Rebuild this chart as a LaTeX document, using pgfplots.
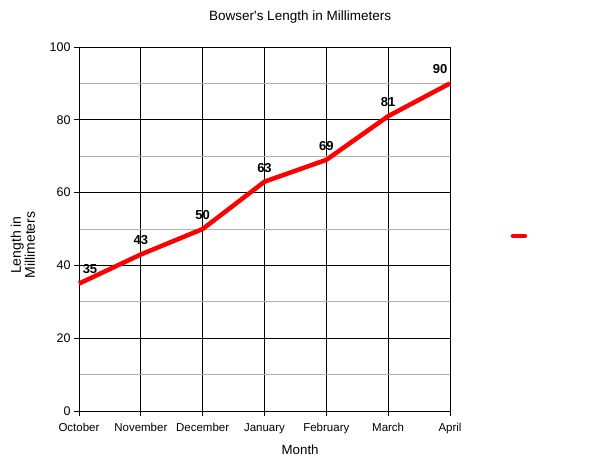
\documentclass[border=0pt]{standalone}
\usepackage{fontspec}
\setmainfont{Liberation Sans}
\usepackage{pgfplots}
\pgfplotsset{compat=1.18}

\begin{document}
\begin{tikzpicture}
\useasboundingbox (-79bp,-52bp) rectangle (521bp,411bp);
\begin{axis}[
    at={(0,0)}, anchor=south west,
    scale only axis,
    width=371bp, height=364bp,
    xmin=0, xmax=6, ymin=0, ymax=100,
    xtick={0,...,6},
    xticklabels={October,November,December,January,February,March,April},
    ytick={0,20,...,100},
    minor ytick={10,30,...,90},
    /pgf/number format/assume math mode=true,
    tick align=outside,
    major tick length=5bp,
    minor tick length=0pt,
    tick style={black, line width=0.8bp},
    xmajorgrids, ymajorgrids, yminorgrids,
    major grid style={black, line width=0.8bp},
    minor grid style={gray!60, line width=0.8bp},
    axis line style={black, line width=0.8bp},
    axis x line*=bottom, axis y line*=left,
    x tick label style={font=\fontsize{11.5bp}{12bp}\selectfont, yshift=-4bp},
    y tick label style={font=\fontsize{12.5bp}{13bp}\selectfont},
    xlabel={Month},
    xlabel style={font=\fontsize{13.3bp}{14bp}\selectfont, at={(axis description cs:0.596,-0.107)}, anchor=center},
    ylabel={Length in\\Millimeters},
    ylabel style={font=\fontsize{14bp}{14bp}\selectfont, align=center, at={(axis description cs:-0.151,0.456)}, anchor=center, rotate=0},
    legend style={at={(axis description cs:1.191,0.481)}, anchor=center, draw=none, fill=none, inner sep=0pt},
    legend image code/.code={\draw[#1, line cap=round] (0bp,0bp) -- (12bp,0bp);},
    clip=false,
    every node near coord/.append style={font=\bfseries\fontsize{13bp}{13bp}\selectfont, black},
]
\addplot[red, line width=4.5bp, line join=round, mark=none]
    coordinates {(0,35) (1,43) (2,50) (3,63) (4,69) (5,81) (6,90)};
\addlegendentry{}
\addplot[draw=none, forget plot, nodes near coords, every node near coord/.append style={anchor=south, yshift=6bp}]
    coordinates {(1,43) (2,50) (3,63) (4,69) (5,81)};
\addplot[draw=none, forget plot, nodes near coords, every node near coord/.append style={anchor=south, xshift=11bp, yshift=6bp}]
    coordinates {(0,35)};
\addplot[draw=none, forget plot, nodes near coords, every node near coord/.append style={anchor=south, xshift=-10bp, yshift=6bp}]
    coordinates {(6,90)};
\node[font=\fontsize{13.5bp}{14bp}\selectfont] at (axis description cs:0.596,1.082) {Bowser\textquotesingle s Length in Millimeters};
\end{axis}
\end{tikzpicture}
\end{document}
